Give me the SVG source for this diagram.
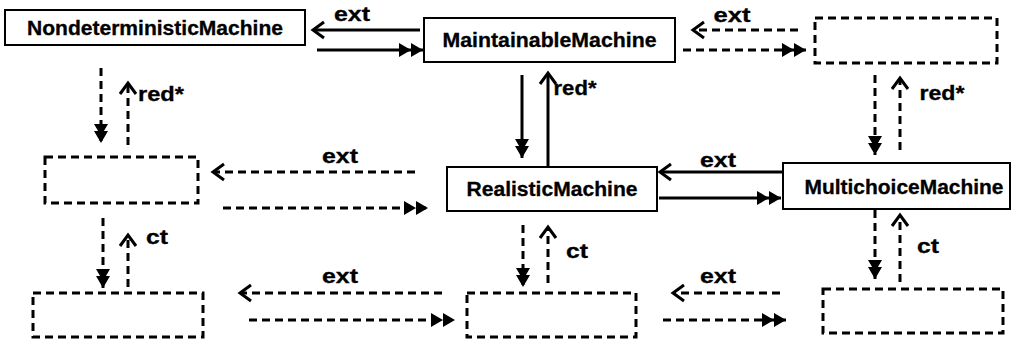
<svg xmlns="http://www.w3.org/2000/svg" width="1013" height="340" viewBox="0 0 1013 340">
<style>
.box{fill:#fff;stroke:#000;stroke-width:2}
.dbox{fill:#fff;stroke:#000;stroke-width:3;stroke-dasharray:8 5}
.t{font-family:"Liberation Sans",Arial,sans-serif;font-weight:bold;font-size:19.5px;fill:#000;text-anchor:middle;stroke:#000;stroke-width:0.3}
.s{stroke:#000;stroke-width:3;fill:none}
.d{stroke:#000;stroke-width:3;fill:none;stroke-dasharray:8 5}
.o{marker-end:url(#open)}
.f{marker-end:url(#fill)}
.w{marker-end:url(#dbl)}
</style>
<defs>
<marker id="open" markerUnits="userSpaceOnUse" orient="auto" refX="0" refY="0" markerWidth="30" markerHeight="30" overflow="visible">
<path d="M-11,-8 L0,0 L-11,8" fill="none" stroke="#000" stroke-width="3" stroke-dasharray="none"/>
</marker>
<marker id="fill" markerUnits="userSpaceOnUse" orient="auto" refX="0" refY="0" markerWidth="30" markerHeight="30" overflow="visible">
<path d="M0,0 L-12,-7 L-12,7 Z M-7,0 L-19,-7 L-19,7 Z" fill="#000" stroke="none"/>
</marker>
<marker id="dbl" markerUnits="userSpaceOnUse" orient="auto" refX="0" refY="0" markerWidth="30" markerHeight="30" overflow="visible">
<path d="M0,0 L-12,-7 L-12,7 Z M-12,0 L-24,-7 L-24,7 Z" fill="#000" stroke="none"/>
</marker>
</defs>

<g id="nondeterministic">
<rect class="box" x="5" y="10" width="300" height="35"/>
<text class="t" x="155" y="35" textLength="256" lengthAdjust="spacingAndGlyphs">NondeterministicMachine</text>
</g>
<g id="maintainable">
<rect class="box" x="424" y="18" width="251" height="44"/>
<text class="t" x="549.5" y="47" textLength="214" lengthAdjust="spacingAndGlyphs">MaintainableMachine</text>
</g>
<g id="top-right">
<rect class="dbox" x="815" y="18" width="182" height="45"/>
</g>
<g id="mid-left">
<rect class="dbox" x="45" y="157" width="153" height="46"/>
</g>
<g id="realistic">
<rect class="box" x="447" y="167" width="210" height="44"/>
<text class="t" x="552" y="196" textLength="171" lengthAdjust="spacingAndGlyphs">RealisticMachine</text>
</g>
<g id="multichoice">
<rect class="box" x="783" y="163" width="227" height="46"/>
<text class="t" x="904" y="194" textLength="199" lengthAdjust="spacingAndGlyphs">MultichoiceMachine</text>
</g>
<g id="bottom-left">
<rect class="dbox" x="33" y="293" width="170" height="44"/>
</g>
<g id="bottom-middle">
<rect class="dbox" x="467" y="293" width="169" height="44"/>
</g>
<g id="bottom-right">
<rect class="dbox" x="823" y="289" width="180" height="44"/>
</g>

<g id="connectors">
<line class="s o" x1="420" y1="30" x2="313" y2="30"/>
<line class="s w" x1="317" y1="50" x2="423" y2="50"/>
<line class="s f" x1="522" y1="75" x2="522" y2="158"/>
<line class="s o" x1="548" y1="166" x2="548" y2="73"/>
<line class="s o" x1="782" y1="172" x2="660" y2="172"/>
<line class="s w" x1="659" y1="198" x2="781" y2="198"/>

<line class="d o" x1="798" y1="30" x2="693" y2="30"/>
<line class="d w" x1="683" y1="50" x2="806" y2="50"/>
<line class="d f" x1="101" y1="68" x2="101" y2="143"/>
<line class="d o" x1="128" y1="145" x2="128" y2="83"/>
<line class="d f" x1="875" y1="75" x2="875" y2="155"/>
<line class="d o" x1="900" y1="150" x2="900" y2="78"/>
<line class="d o" x1="415" y1="172" x2="213" y2="172"/>
<line class="d w" x1="223" y1="208" x2="428" y2="208"/>
<line class="d f" x1="103" y1="218" x2="103" y2="288"/>
<line class="d o" x1="128" y1="287" x2="128" y2="235"/>
<line class="d o" x1="442" y1="293" x2="240" y2="293"/>
<line class="d w" x1="249" y1="320" x2="455" y2="320"/>
<line class="d f" x1="523" y1="225" x2="523" y2="287"/>
<line class="d o" x1="548" y1="283" x2="548" y2="227"/>
<line class="d f" x1="875" y1="210" x2="875" y2="279"/>
<line class="d o" x1="900" y1="282" x2="900" y2="215"/>
<line class="d o" x1="780" y1="293" x2="673" y2="293"/>
<line class="d w" x1="663" y1="320" x2="786" y2="320"/>

<text class="t" x="352" y="21" textLength="36" lengthAdjust="spacingAndGlyphs">ext</text>
<text class="t" x="732" y="22" textLength="37" lengthAdjust="spacingAndGlyphs">ext</text>
<text class="t" x="340" y="163" textLength="36" lengthAdjust="spacingAndGlyphs">ext</text>
<text class="t" x="718" y="167" textLength="36" lengthAdjust="spacingAndGlyphs">ext</text>
<text class="t" x="340" y="283" textLength="36" lengthAdjust="spacingAndGlyphs">ext</text>
<text class="t" x="718" y="283" textLength="36" lengthAdjust="spacingAndGlyphs">ext</text>
<text class="t" x="161" y="101" textLength="46" lengthAdjust="spacingAndGlyphs">red*</text>
<text class="t" x="575" y="95" textLength="43" lengthAdjust="spacingAndGlyphs">red*</text>
<text class="t" x="942" y="100" textLength="45" lengthAdjust="spacingAndGlyphs">red*</text>
<text class="t" x="157" y="244" textLength="22" lengthAdjust="spacingAndGlyphs">ct</text>
<text class="t" x="577" y="258" textLength="22" lengthAdjust="spacingAndGlyphs">ct</text>
<text class="t" x="928" y="253" textLength="22" lengthAdjust="spacingAndGlyphs">ct</text>
</g>
</svg>
